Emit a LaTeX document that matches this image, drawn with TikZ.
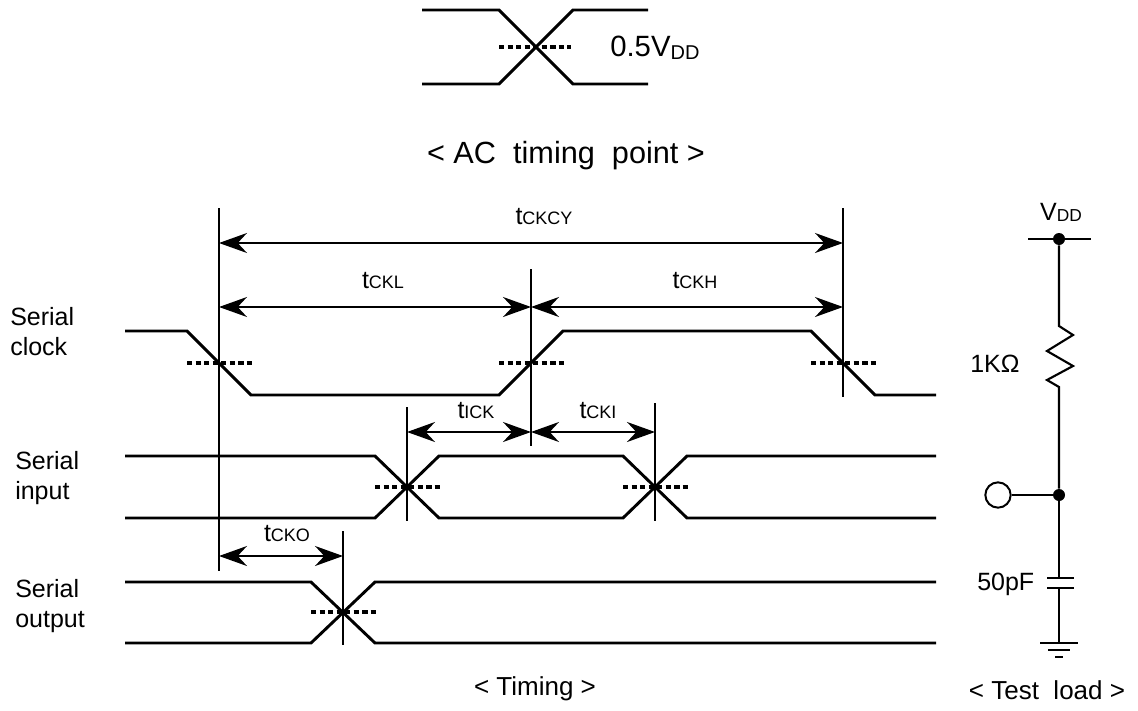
\documentclass[tikz,border=0pt]{standalone}
\usepackage{fontspec}
\setmainfont{Liberation Sans}
\usetikzlibrary{arrows.meta}
\newcommand{\lblfont}{\fontsize{18.75}{22.5}\selectfont}
\newcommand{\bigfont}{\fontsize{22}{26}\selectfont}
\newcommand{\titlefont}{\fontsize{23}{27}\selectfont}
\newcommand{\capfont}{\fontsize{19.5}{23}\selectfont}
\newcommand{\tsub}[1]{t{\fontsize{13.5}{14}\selectfont #1}}
\newcommand{\vdd}[1][13]{V\raisebox{-0.15ex}{\fontsize{#1}{#1}\selectfont DD}}
\begin{document}
\begin{tikzpicture}[x=0.75pt, y=-0.75pt,
    wave/.style={line width=2.2pt, line join=miter},
    halfline/.style={line width=2.6pt, dash pattern=on 4pt off 2.4pt},
    refline/.style={line width=1.6pt},
    dimarrow/.style={line width=1.5pt, {Stealth[length=21pt, width=15pt, inset=7pt]}-{Stealth[length=21pt, width=15pt, inset=7pt]}},
    wire/.style={line width=1.6pt},
    plate/.style={line width=2.2pt},
    dot/.style={circle, fill=black, inner sep=0pt, minimum size=9pt},
    lbl/.style={font=\lblfont, inner sep=0pt}]
  \useasboundingbox (0,0) rectangle (1138,710);
  % AC timing point
  \draw[wave] (422,10) -- (499,10) -- (573,84) -- (648,84);
  \draw[wave] (422,84) -- (499,84) -- (573,10) -- (648,10);
  \draw[halfline] (499,47) -- (571,47);
  \node[font=\bigfont, inner sep=0pt, anchor=base west] (vref) at (610,57) {0.5\vdd[15]};
  \node[font=\titlefont, inner sep=0pt, anchor=base] (actitle) at (566,163) {<~AC~~timing~~point~>};
  % signal names
  \node[lbl, align=left, anchor=north west] (sclk) at (10,307) {Serial\\clock};
  \node[lbl, align=left, anchor=north west] (sin) at (15,451) {Serial\\input};
  \node[lbl, align=left, anchor=north west] (sout) at (15,579) {Serial\\output};
  % waveforms
  \draw[wave] (125,331) -- (187,331) -- (251,395) -- (499,395) -- (563,331) -- (811,331) -- (875,395) -- (936,395);
  \draw[wave] (125,456) -- (375,456) -- (439,518) -- (623,518) -- (687,456) -- (936,456);
  \draw[wave] (125,518) -- (375,518) -- (439,456) -- (623,456) -- (687,518) -- (936,518);
  \draw[wave] (125,582) -- (311,582) -- (375,643) -- (936,643);
  \draw[wave] (125,643) -- (311,643) -- (375,582) -- (936,582);
  \foreach \x/\y in {219/363, 531/363, 843/363, 407/487, 655/487, 343/612}
    \draw[halfline] (\x-32,\y) -- (\x+33,\y);
  % reference lines
  \draw[refline] (219,208) -- (219,571);
  \draw[refline] (531,269) -- (531,446);
  \draw[refline] (843,208) -- (843,397);
  \draw[refline] (407,407) -- (407,521);
  \draw[refline] (655,403) -- (655,521);
  \draw[refline] (343,531) -- (343,645);
  % arrow ends
  \coordinate (cyA) at (219,243); \coordinate (cyB) at (843,243);
  \coordinate (ckA) at (219,307); \coordinate (ckM) at (531,307); \coordinate (ckB) at (843,307);
  \coordinate (inA) at (407,432); \coordinate (inM) at (531,432); \coordinate (inB) at (655,432);
  \coordinate (ouA) at (219,556); \coordinate (ouB) at (343,556);
  % arrows
  \draw[dimarrow] (cyA) -- (cyB);
  \draw[dimarrow] (ckA) -- (ckM);
  \draw[dimarrow] (ckM) -- (ckB);
  \draw[dimarrow] (inA) -- (inM);
  \draw[dimarrow] (inM) -- (inB);
  \draw[dimarrow] (ouA) -- (ouB);
  % times
  \node[lbl, anchor=base] (tcy) at (544,224) {\tsub{CKCY}};
  \node[lbl, anchor=base] (tkl) at (383,288) {\tsub{CKL}};
  \node[lbl, anchor=base] (tkh) at (695,288) {\tsub{CKH}};
  \node[lbl, anchor=base] (tik) at (476,418) {\tsub{ICK}};
  \node[lbl, anchor=base] (tki) at (598,418) {\tsub{CKI}};
  \node[lbl, anchor=base] (tko) at (287,541) {\tsub{CKO}};
  \node[font=\capfont, inner sep=0pt, anchor=base] (tcap) at (535,695) {<~Timing~>};
  % test load
  \coordinate (vddL) at (1028,239); \coordinate (vddR) at (1091,239);
  \node[dot] (vdd) at (1059,239) {};
  \node[dot] (out) at (1059,495) {};
  \node[draw, circle, line width=1.5pt, inner sep=0pt, minimum size=19pt] (pin) at (998,495) {};
  \draw[wire] (vddL) -- (vddR);
  \draw[wire] (vdd) -- (1059,326) -- (1073,335) -- (1047,351) -- (1073,366) -- (1047,380) -- (1059,387) -- (out);
  \draw[wire] (pin) -- (out);
  \coordinate (capT) at (1059,578); \coordinate (capB) at (1059,588);
  \coordinate (gnd) at (1059,643);
  \draw[wire] (out) -- (capT);
  \draw[plate] (1047,578) -- (1074,578);
  \draw[plate] (1047,588) -- (1074,588);
  \draw[wire] (capB) -- (gnd);
  \draw[wire] (1040,643) -- (1078,643);
  \draw[wire] (1048,650) -- (1070,650);
  \draw[wire] (1055,657) -- (1063,657);
  \node[lbl, anchor=base] (vddlbl) at (1061,220) {\vdd};
  \node[lbl, anchor=base west] (rlbl) at (970,372) {1KΩ};
  \node[lbl, anchor=base west] (clbl) at (977,590) {50pF};
  \node[font=\capfont, inner sep=0pt, anchor=base] (tlcap) at (1047,699) {<~Test~~load~>};
\end{tikzpicture}
\end{document}
